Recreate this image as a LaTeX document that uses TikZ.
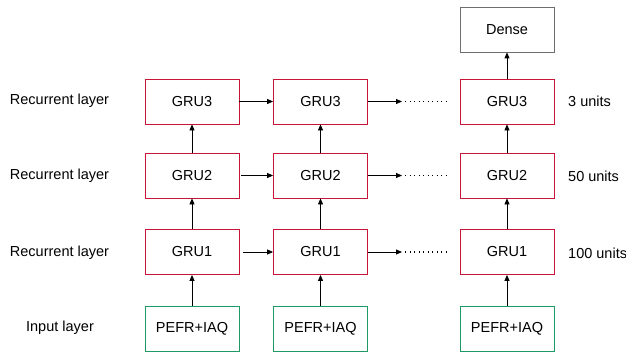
\documentclass[tikz,border=0pt]{standalone}
\usepackage{fontspec}
\setmainfont{Liberation Sans}
\usetikzlibrary{arrows.meta}
\definecolor{grured}{RGB}{200,20,55}
\definecolor{ingreen}{RGB}{30,155,100}
\definecolor{densegray}{RGB}{110,110,110}
\begin{document}
\begin{tikzpicture}[x=1pt,y=-1pt,
  every node/.style={font=\fontsize{14.5}{17}\selectfont},
  box/.style={draw,rectangle,minimum width=94pt,minimum height=45pt,inner sep=0pt,line width=0.8pt},
  grubox/.style={box,draw=grured},
  inbox/.style={box,draw=ingreen},
  densebox/.style={box,draw=densegray},
  conn/.style={line width=0.8pt,-{Triangle[length=6pt,width=5pt]}},
  dotline/.style={line width=1.1pt,dash pattern=on 1.1pt off 3.4pt},
  lbl/.style={inner sep=0pt},
  ulbl/.style={inner sep=0pt,anchor=west}]
\useasboundingbox (0,0) rectangle (626,353);
% column 1
\node[inbox] (in1) at (192,329) {PEFR+IAQ};
\node[grubox] (a1) at (192,252) {GRU1};
\node[grubox] (b1) at (192,175.5) {GRU2};
\node[grubox] (c1) at (192,101.5) {GRU3};
% column 2
\node[inbox] (in2) at (320.5,329) {PEFR+IAQ};
\node[grubox] (a2) at (320.5,252) {GRU1};
\node[grubox] (b2) at (320.5,175.5) {GRU2};
\node[grubox] (c2) at (320.5,101.5) {GRU3};
% column 3
\node[inbox] (in3) at (507,329) {PEFR+IAQ};
\node[grubox] (a3) at (507,252) {GRU1};
\node[grubox] (b3) at (507,175.5) {GRU2};
\node[grubox] (c3) at (507,101.5) {GRU3};
\node[densebox] (d) at (507,29.5) {Dense};
% labels
\node[lbl] (l3) at (59.5,101) {Recurrent layer};
\node[lbl] (l2) at (59.5,176) {Recurrent layer};
\node[lbl] (l1) at (59.5,253) {Recurrent layer};
\node[lbl] (l0) at (60,328) {Input layer};
\node[ulbl] (u3) at (568,101.5) {3 units};
\node[ulbl] (u2) at (568,176.5) {50 units};
\node[ulbl] (u1) at (568,253) {100 units};
% vertical connectors
\foreach \c in {1,2,3}{
  \draw[conn] (in\c) -- (a\c);
  \draw[conn] (a\c) -- (b\c);
  \draw[conn] (b\c) -- (c\c);
}
\draw[conn] (c3) -- (d);
% horizontal connectors
\draw[conn] (c1) -- (c2);
\draw[conn,shorten <=2pt] (b1) -- (b2);
\draw[conn,shorten <=4pt] (a1) -- (a2);
% dots
\coordinate (p3) at (402,101.5);
\coordinate (q3) at (446,101.5);
\coordinate (p2) at (402,175.5);
\coordinate (q2) at (446,175.5);
\coordinate (p1) at (402,252);
\coordinate (q1) at (446,252);
\draw[conn] (c2) -- (p3);
\draw[conn] (b2) -- (p2);
\draw[conn] (a2) -- (p1);
\draw[dotline] (p3) ++(3,0) -- (q3);
\draw[dotline] (p2) ++(3,0) -- (q2);
\draw[dotline] (p1) ++(3,0) -- (q1);
\end{tikzpicture}
\end{document}
